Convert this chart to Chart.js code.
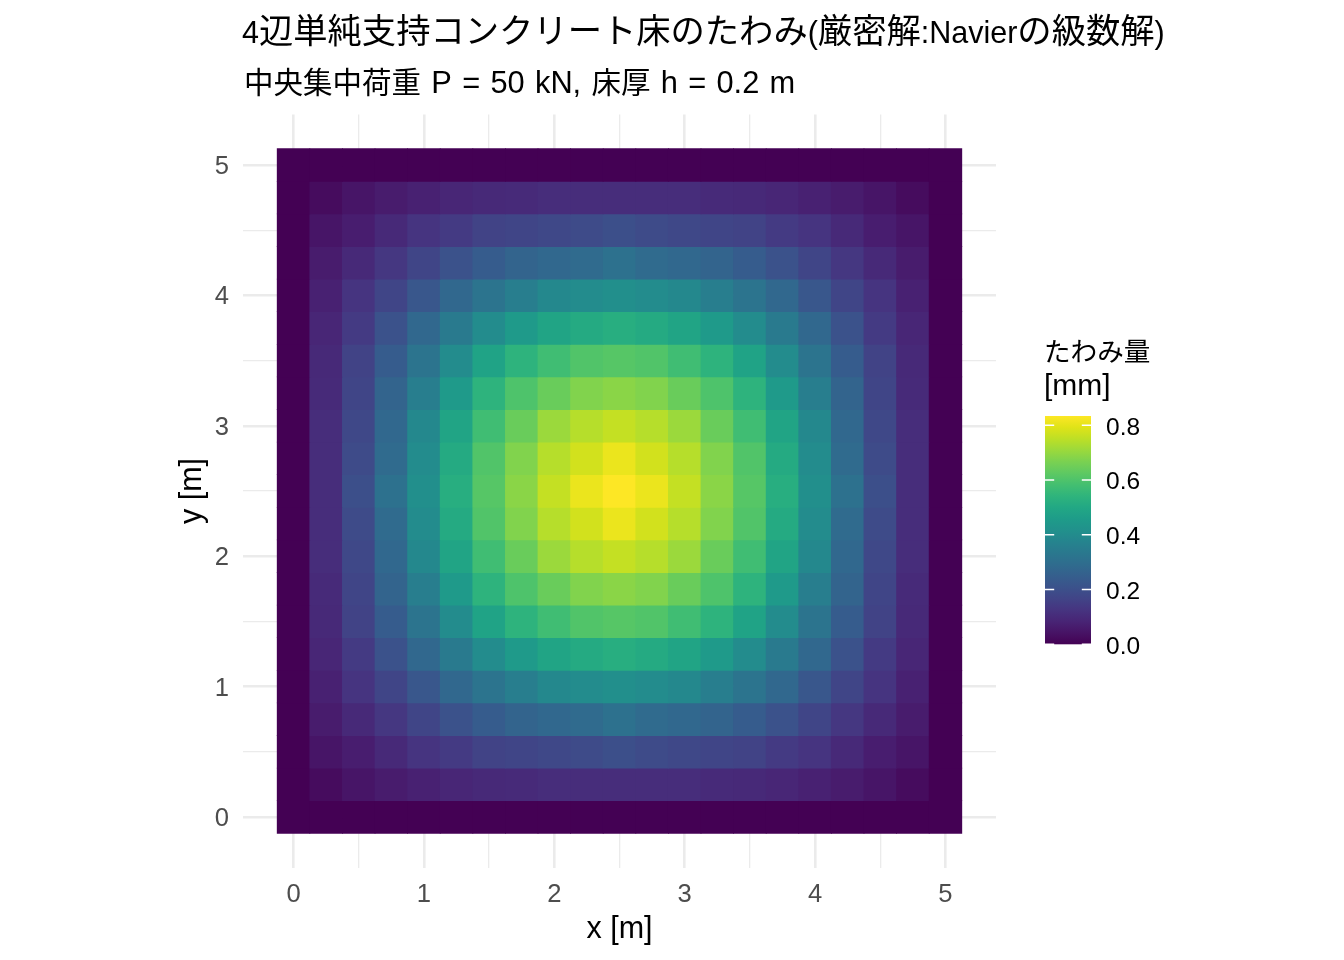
<!DOCTYPE html>
<html lang="ja">
<head>
<meta charset="utf-8">
<title>4辺単純支持コンクリート床のたわみ</title>
<script src="https://cdn.jsdelivr.net/npm/chart.js@4.4.1/dist/chart.umd.min.js"></script>
<style>
  html, body { margin: 0; padding: 0; background: #ffffff; }
  canvas { display: block; }
</style>
</head>
<body>
<canvas id="grafico-tawami" width="1344" height="960"></canvas>
<script>
// 格子点の座標 [m]
const xs = [0, 0.25, 0.5, 0.75, 1, 1.25, 1.5, 1.75, 2, 2.25, 2.5, 2.75, 3, 3.25, 3.5, 3.75, 4, 4.25, 4.5, 4.75, 5];
const ys = [0, 0.25, 0.5, 0.75, 1, 1.25, 1.5, 1.75, 2, 2.25, 2.5, 2.75, 3, 3.25, 3.5, 3.75, 4, 4.25, 4.5, 4.75, 5];

// たわみ量 [mm] (行 = y, 列 = x) ※図から読み取った値
const w = [
  [0, 0, 0, 0, 0, 0, 0, 0, 0, 0, 0, 0, 0, 0, 0, 0, 0, 0, 0, 0, 0],
  [0, .025, .046, .063, .075, .088, .096, .100, .106, .107, .108, .107, .106, .100, .096, .088, .075, .063, .046, .025, 0],
  [0, .046, .067, .096, .125, .142, .163, .171, .179, .188, .200, .188, .179, .171, .163, .142, .125, .096, .067, .046, 0],
  [0, .063, .096, .133, .171, .209, .242, .267, .279, .288, .309, .288, .279, .267, .242, .209, .171, .133, .096, .063, 0],
  [0, .075, .125, .171, .225, .279, .321, .354, .388, .400, .409, .400, .388, .354, .321, .279, .225, .171, .125, .075, 0],
  [0, .088, .142, .209, .279, .342, .400, .450, .488, .509, .521, .509, .488, .450, .400, .342, .279, .209, .142, .088, 0],
  [0, .096, .163, .242, .321, .400, .484, .538, .575, .605, .613, .605, .575, .538, .484, .400, .321, .242, .163, .096, 0],
  [0, .100, .171, .267, .354, .450, .538, .600, .642, .676, .688, .676, .642, .600, .538, .450, .354, .267, .171, .100, 0],
  [0, .106, .179, .279, .388, .488, .575, .642, .709, .742, .759, .742, .709, .642, .575, .488, .388, .279, .179, .106, 0],
  [0, .107, .188, .288, .400, .509, .605, .676, .742, .776, .809, .776, .742, .676, .605, .509, .400, .288, .188, .107, 0],
  [0, .108, .200, .309, .409, .521, .613, .688, .759, .809, .834, .809, .759, .688, .613, .521, .409, .309, .200, .108, 0],
  [0, .107, .188, .288, .400, .509, .605, .676, .742, .776, .809, .776, .742, .676, .605, .509, .400, .288, .188, .107, 0],
  [0, .106, .179, .279, .388, .488, .575, .642, .709, .742, .759, .742, .709, .642, .575, .488, .388, .279, .179, .106, 0],
  [0, .100, .171, .267, .354, .450, .538, .600, .642, .676, .688, .676, .642, .600, .538, .450, .354, .267, .171, .100, 0],
  [0, .096, .163, .242, .321, .400, .484, .538, .575, .605, .613, .605, .575, .538, .484, .400, .321, .242, .163, .096, 0],
  [0, .088, .142, .209, .279, .342, .400, .450, .488, .509, .521, .509, .488, .450, .400, .342, .279, .209, .142, .088, 0],
  [0, .075, .125, .171, .225, .279, .321, .354, .388, .400, .409, .400, .388, .354, .321, .279, .225, .171, .125, .075, 0],
  [0, .063, .096, .133, .171, .209, .242, .267, .279, .288, .309, .288, .279, .267, .242, .209, .171, .133, .096, .063, 0],
  [0, .046, .067, .096, .125, .142, .163, .171, .179, .188, .200, .188, .179, .171, .163, .142, .125, .096, .067, .046, 0],
  [0, .025, .046, .063, .075, .088, .096, .100, .106, .107, .108, .107, .106, .100, .096, .088, .075, .063, .046, .025, 0],
  [0, 0, 0, 0, 0, 0, 0, 0, 0, 0, 0, 0, 0, 0, 0, 0, 0, 0, 0, 0, 0]
];

// 目盛り
const xTicks = [0, 1, 2, 3, 4, 5];
const yTicks = [0, 1, 2, 3, 4, 5];
const legendTicks = [0, 0.2, 0.4, 0.6, 0.8];

const titulo = "4辺単純支持コンクリート床のたわみ(厳密解:Navierの級数解)";
const subtitulo = "中央集中荷重 P = 50 kN, 床厚 h = 0.2 m";

const wMax = Math.max(...w.flat());

// viridis カラーマップ
const viridisStops = ["#440154", "#471365", "#482475", "#463480", "#414487", "#3b528b", "#355f8d",
  "#2f6c8e", "#2a788e", "#25848e", "#21918c", "#1e9c89", "#22a884", "#2fb47c", "#44bf70",
  "#5ec962", "#7ad151", "#9bd93c", "#bddf26", "#dfe318", "#fde725"];
const viridisRgb = viridisStops.map(h => [1, 3, 5].map(k => parseInt(h.substr(k, 2), 16)));

function viridis(t) {
  t = Math.min(1, Math.max(0, t));
  const p = t * (viridisRgb.length - 1);
  const i = Math.min(Math.floor(p), viridisRgb.length - 2);
  const f = p - i;
  const a = viridisRgb[i], b = viridisRgb[i + 1];
  const c = a.map((v, k) => Math.round(v + (b[k] - v) * f));
  return `rgb(${c[0]},${c[1]},${c[2]})`;
}

// セルのデータ
const celdas = [];
ys.forEach((y, j) => {
  xs.forEach((x, i) => {
    celdas.push({ x: x, y: y, v: w[j][i] });
  });
});

// 主目盛りと補助目盛り(中点)
function withMinor(ticks) {
  const out = [];
  ticks.forEach((t, i) => {
    out.push(t);
    if (i < ticks.length - 1) out.push((t + ticks[i + 1]) / 2);
  });
  return out;
}

const latinFont = '"Liberation Sans", Arial, sans-serif';
const cjkFont = '"Noto Sans CJK JP", "Noto Sans CJK SC", sans-serif';

// 和文と欧文でフォントを切り替えて描く(spaceW: 半角スペースの幅)
function drawMixed(ctx, text, x, y, latinPx, cjkPx, color, spaceW) {
  const re = /[\u3000-\u30ff\u3400-\u9fff\uff00-\uffef]/;
  const runs = [];
  for (const ch of text) {
    const kind = ch === " " ? "sp" : (re.test(ch) ? "cjk" : "lat");
    if (runs.length && runs[runs.length - 1].kind === kind && kind !== "sp") runs[runs.length - 1].t += ch;
    else runs.push({ t: ch, kind: kind });
  }
  ctx.save();
  ctx.fillStyle = color;
  ctx.textAlign = "left";
  ctx.textBaseline = "alphabetic";
  runs.forEach(r => {
    ctx.font = r.kind === "cjk" ? `${cjkPx}px ${cjkFont}` : `${latinPx}px ${latinFont}`;
    if (r.kind === "sp" && spaceW) { x += spaceW; return; }
    ctx.fillText(r.t, x, y);
    x += ctx.measureText(r.t).width;
  });
  ctx.restore();
}

function cellRadius(c) {
  const sx = c.chart.scales.x;
  const side = Math.abs(sx.getPixelForValue(xs[1]) - sx.getPixelForValue(xs[0]));
  return (side + 0.8) / Math.SQRT2;
}

// タイトル・軸タイトル・カラーバー
const decoracao = {
  id: "decoracao",
  afterDraw(chart) {
    const ctx = chart.ctx;
    const area = chart.chartArea;

    drawMixed(ctx, titulo, 242, 42.5, 30.5, 34.3, "#000000");
    drawMixed(ctx, subtitulo, 244, 92.5, 30.8, 29.5, "#000000", 10.3);

    ctx.save();
    ctx.fillStyle = "#000000";
    ctx.font = `30.5px ${latinFont}`;
    ctx.textAlign = "center";
    ctx.textBaseline = "alphabetic";
    ctx.fillText("x [m]", (area.left + area.right) / 2, 938);
    ctx.translate(201, (area.top + area.bottom) / 2);
    ctx.rotate(-Math.PI / 2);
    ctx.fillText("y [m]", 0, 0);
    ctx.restore();

    // 凡例タイトル
    drawMixed(ctx, "たわみ量", 1044, 361, 28, 26.6, "#000000");
    drawMixed(ctx, "[mm]", 1044, 395, 30, 30, "#000000");

    // カラーバー
    const barL = 1045, barW = 46, barBottom = 644.3, barTop = 416;
    const pxPer = (barBottom - barTop) / wMax;
    const grad = ctx.createLinearGradient(0, barBottom, 0, barTop);
    viridisStops.forEach((c, i) => grad.addColorStop(i / (viridisStops.length - 1), c));
    ctx.save();
    ctx.fillStyle = grad;
    ctx.fillRect(barL, barTop, barW, barBottom - barTop);

    ctx.strokeStyle = "#ffffff";
    ctx.lineWidth = 1.6;
    const tl = barW / 5;
    legendTicks.forEach(v => {
      const y = barBottom - v * pxPer;
      ctx.beginPath();
      ctx.moveTo(barL, y); ctx.lineTo(barL + tl, y);
      ctx.moveTo(barL + barW - tl, y); ctx.lineTo(barL + barW, y);
      ctx.stroke();
    });

    ctx.fillStyle = "#000000";
    ctx.font = `24.5px ${latinFont}`;
    ctx.textAlign = "left";
    ctx.textBaseline = "middle";
    legendTicks.forEach(v => {
      ctx.fillText(v.toFixed(1), 1106, barBottom - v * pxPer + 2.5);
    });
    ctx.restore();
  }
};

function eixo(ticksPrincipais, extra) {
  return Object.assign({
    type: "linear",
    min: -0.3875,
    max: 5.3875,
    afterBuildTicks: s => { s.ticks = withMinor(ticksPrincipais).map(v => ({ value: v })); },
    border: { display: false },
    grid: {
      color: "#EBEBEB",
      drawTicks: false,
      lineWidth: c => (c.tick && ticksPrincipais.includes(c.tick.value)) ? 2.6 : 1.3
    },
    ticks: {
      autoSkip: false,
      maxRotation: 0,
      color: "#4D4D4D",
      font: { family: latinFont, size: 25.6 },
      callback: v => ticksPrincipais.includes(v) ? String(v) : ""
    }
  }, extra);
}

const xScale = eixo(xTicks, { afterFit: s => { s.height = 92.5; } });
xScale.ticks.padding = 12;
const yScale = eixo(yTicks, { afterFit: s => { s.width = 243; } });
yScale.ticks.padding = 14;
yScale.ticks.labelOffset = 2;

new Chart(document.getElementById("grafico-tawami").getContext("2d"), {
  type: "scatter",
  data: {
    datasets: [{
      label: "たわみ量",
      data: celdas,
      pointStyle: "rect",
      backgroundColor: c => viridis(c.raw ? c.raw.v / wMax : 0),
      borderWidth: 0,
      pointRadius: cellRadius,
      pointHoverRadius: cellRadius
    }]
  },
  options: {
    responsive: false,
    animation: false,
    events: [],
    layout: { padding: { left: 0, right: 348, top: 114.5, bottom: 0 } },
    plugins: {
      legend: { display: false },
      tooltip: { enabled: false }
    },
    scales: { x: xScale, y: yScale }
  },
  plugins: [decoracao]
});
</script>
</body>
</html>
